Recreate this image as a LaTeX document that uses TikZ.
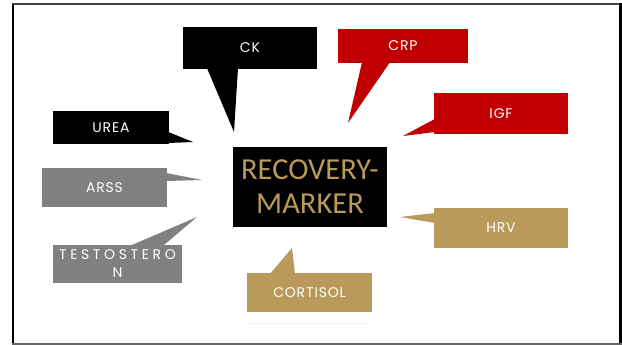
\documentclass[tikz,border=0pt]{standalone}
\usepackage{fontspec}
\setmainfont{Poppins}
\newfontfamily\markerfont{Carlito}
\definecolor{calred}{RGB}{192,0,0}
\definecolor{calgray}{RGB}{128,128,128}
\definecolor{calgold}{RGB}{186,154,90}
\begin{document}
\begin{tikzpicture}[x=1pt,y=-1pt,
  callout/.style={inner sep=0pt, text=white, align=center,
    font=\fontsize{14}{18}\selectfont\addfontfeature{LetterSpace=6}},
]
\useasboundingbox (0,0) rectangle (622,345);
\fill[white] (0,0) rectangle (622,345);

% frame
\draw[black, line width=2.5pt] (13.2,3.5) -- (13.2,345);
\draw[black!75, line width=2pt] (12,4.3) -- (622,4.3);
\draw[black, line width=3pt] (620.5,3.5) -- (620.5,345);
\draw[black!60, line width=1.5pt] (12,344.2) -- (622,344.2);

% central box
\node[fill=black, minimum width=154pt, minimum height=80pt, inner sep=0pt,
  text=calgold, align=center, font=\markerfont\fontsize{30.5}{34}\selectfont]
  (marker) at (310,187) {\raisebox{-2pt}{RECOVERY-}\\\raisebox{-2pt}{MARKER}};

% labelled callouts
\node[callout, fill=black, minimum width=134pt, minimum height=42pt] (ck) at (250,48) {CK};
\node[callout, fill=calred, minimum width=130pt, minimum height=34pt] (crp) at (403,46) {CRP};
\node[callout, fill=calred, minimum width=134pt, minimum height=41pt] (igf) at (501,113.5) {IGF};
\node[callout, fill=calgold, minimum width=134pt, minimum height=40pt] (hrv) at (501,228) {HRV};
\node[callout, fill=black, minimum width=116pt, minimum height=33pt] (urea) at (111,127.5) {UREA};
\node[callout, fill=calgray, minimum width=125pt, minimum height=39pt] (arss) at (104.5,187.5) {ARSS};
\node[callout, fill=calgray, minimum width=129pt, minimum height=38pt,
  font=\fontsize{14}{18}\selectfont\addfontfeature{LetterSpace=26}] (test) at (117.5,264) {TESTOSTERO\\N};
\node[callout, fill=calgold, minimum width=125pt, minimum height=39pt] (cort) at (309.5,292.5) {CORTISOL};

% tail tips
\coordinate (ck-tip) at (234,132);
\coordinate (crp-tip) at (348,123);
\coordinate (igf-tip) at (403,136);
\coordinate (hrv-tip) at (400,217);
\coordinate (urea-tip) at (193,142);
\coordinate (arss-tip) at (202,180);
\coordinate (test-tip) at (197,217);
\coordinate (cort-tip) at (292,248);

% callout tails
\fill[black] ([xshift=-43pt,yshift=1pt]ck.south) -- ([xshift=-12pt,yshift=1pt]ck.south) -- (ck-tip) -- cycle;
\fill[calred] ([xshift=-41pt,yshift=1pt]crp.south) -- ([xshift=-13pt,yshift=1pt]crp.south) -- (crp-tip) -- cycle;
\fill[calred] ([xshift=1pt,yshift=-5.5pt]igf.west) -- ([xshift=1pt,yshift=-18.5pt]igf.west) -- (igf-tip) -- cycle;
\fill[calgold] ([xshift=1pt,yshift=15pt]hrv.west) -- ([xshift=1pt,yshift=5pt]hrv.west) -- (hrv-tip) -- cycle;
\fill[black] ([xshift=-1pt,yshift=-4.5pt]urea.east) -- ([xshift=-1pt,yshift=-15.5pt]urea.east) -- (urea-tip) -- cycle;
\fill[calgray] ([xshift=-1pt,yshift=14.5pt]arss.east) -- ([xshift=-1pt,yshift=6.5pt]arss.east) -- (arss-tip) -- cycle;
\fill[calgray] ([xshift=12.5pt,yshift=-1pt]test.north) -- ([xshift=45.5pt,yshift=-1pt]test.north) -- (test-tip) -- cycle;
\fill[calgold] ([xshift=-39.5pt,yshift=-1pt]cort.north) -- ([xshift=-14.5pt,yshift=-1pt]cort.north) -- (cort-tip) -- cycle;

% faint rule under the cortisol box
\draw[calgold!12, line width=1.2pt] ([yshift=-11pt]cort.south west) -- ([yshift=-11pt]cort.south east);
\end{tikzpicture}
\end{document}
